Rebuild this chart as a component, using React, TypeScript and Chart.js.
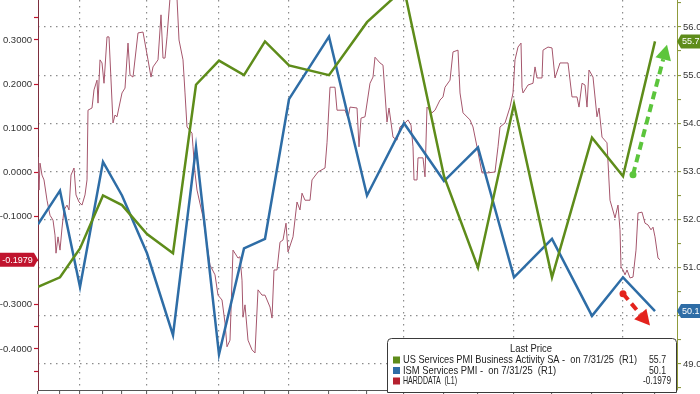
import React, { useEffect, useRef } from 'react';
import { Chart, registerables } from 'chart.js';

Chart.register(...registerables);

const FONT = '"Liberation Sans", Arial, Helvetica, sans-serif';

// Month-end observations (Oct 2023 .. Jul 2025), x = observation index on the chart's time axis
const months = ['Oct 23', 'Nov 23', 'Dec 23', 'Jan 24', 'Feb 24', 'Mar 24', 'Apr 24', 'May 24', 'Jun 24', 'Jul 24', 'Aug 24', 'Sep 24', 'Oct 24', 'Nov 24', 'Dec 24', 'Jan 25', 'Feb 25', 'Mar 25', 'Apr 25', 'May 25', 'Jun 25', 'Jul 25'];
const monthObs = [0, 8.8, 16.8, 26, 33.6, 43.6, 54, 63.2, 72.4, 82.4, 90.8, 100.4, 116.4, 131.6, 146.4, 162.4, 176, 190.4, 205.6, 221.6, 234, 246.8];
const axisMaxObs = 255.6;

const usServicesPmi = [50.6, 50.8, 51.4, 52.5, 52.3, 51.7, 51.3, 54.8, 55.3, 55.0, 55.7, 55.2, 55.0, 56.1, 56.8, 52.9, 51.0, 54.4, 50.8, 53.7, 52.9, 55.7];
const ismServicesPmi = [51.9, 52.6, 50.6, 53.2, 52.5, 51.3, 49.6, 53.5, 49.2, 51.4, 51.6, 54.5, 55.8, 52.5, 54.0, 52.8, 53.5, 50.8, 51.6, 50.0, 50.8, 50.1];

const hardObs = [0, 0.4, 0.8, 1.6, 2.4, 3.6, 4.8, 6, 6.8, 7.2, 8, 8.8, 9.6, 10.4, 11.6, 12.4, 13.2, 14.4, 15.2, 16.4, 17.6, 18.8, 19.6, 20, 21.6, 22.4, 23.6, 24, 24.8, 25.6, 26.4, 27.6, 28.4, 30, 30.8, 31.6, 33.6, 34.8, 36, 36.8, 38, 40, 42, 44, 45.2, 46, 48, 49.2, 50, 50.8, 51.6, 52.8, 55.6, 56.4, 58, 58.8, 59.6, 61.6, 62, 62.8, 63.6, 66, 68.8, 70.8, 72, 73.6, 74.8, 75.6, 76.8, 78, 80, 80.8, 81.6, 82, 82.8, 84, 85.6, 86.8, 88, 89.6, 90.8, 92.8, 93.6, 94.4, 95.6, 96.8, 98, 99.2, 100, 102, 103.6, 104.8, 105.6, 106.8, 108.8, 109.6, 112, 114.8, 115.6, 116.8, 118.8, 119.6, 122.8, 124, 124.8, 127.6, 128.4, 129.2, 130.8, 132.8, 134, 134.8, 136.8, 138, 139.6, 140.4, 142, 143.6, 144.8, 146.8, 148, 149.2, 150, 150.4, 151.6, 152, 154, 154.8, 155.6, 157.6, 158.8, 160.8, 162, 162.8, 164.8, 166, 168, 168.8, 170, 172.8, 174, 175.6, 177.6, 180, 182.8, 184, 184.8, 186.8, 188.8, 190, 190.8, 192, 193.2, 193.6, 194, 196, 198, 198.8, 199.6, 201.6, 202, 204, 205.6, 206.8, 208.8, 212, 213.6, 215.6, 216.4, 217.6, 218.8, 219.6, 220.4, 222, 223.6, 224.4, 225.6, 227.6, 228.8, 230.8, 232, 232.8, 233.2, 234, 234.8, 235.6, 236.8, 238, 239.2, 240, 241.6, 242.8, 244, 245.2, 246, 246.8, 248, 248.8];
const hardData = [0.035, -0.040, 0.021, -0.006, -0.017, -0.063, -0.097, -0.108, -0.142, -0.183, -0.146, -0.176, -0.126, -0.085, -0.074, -0.085, -0.006, 0.010, -0.051, -0.067, -0.074, -0.051, -0.017, 0.141, 0.146, 0.187, 0.209, 0.157, 0.255, 0.248, 0.202, 0.307, 0.307, 0.112, 0.130, 0.126, 0.180, 0.191, 0.293, 0.221, 0.216, 0.316, 0.318, 0.255, 0.216, 0.239, 0.255, 0.357, 0.259, 0.259, 0.307, 0.395, 0.395, 0.300, 0.255, 0.180, 0.103, 0.089, 0.058, -0.001, -0.040, -0.101, -0.210, -0.232, -0.278, -0.289, -0.341, -0.395, -0.380, -0.176, -0.194, -0.191, -0.244, -0.328, -0.300, -0.380, -0.402, -0.409, -0.266, -0.278, -0.278, -0.305, -0.330, -0.221, -0.221, -0.158, -0.153, -0.115, -0.180, -0.146, -0.067, -0.085, -0.047, -0.063, -0.063, -0.017, 0.001, 0.010, 0.067, 0.193, 0.193, 0.141, 0.141, 0.123, 0.148, 0.146, 0.058, 0.123, 0.126, 0.202, 0.216, 0.261, 0.248, 0.243, 0.114, 0.146, 0.080, 0.073, 0.103, 0.112, 0.119, 0.107, 0.058, -0.017, -0.017, 0.033, 0.033, -0.010, 0.148, 0.135, 0.141, 0.164, 0.171, 0.193, 0.209, 0.273, 0.277, 0.180, 0.135, 0.119, 0.103, 0.058, -0.001, -0.001, 0.001, 0.058, 0.103, 0.112, 0.148, 0.180, 0.255, 0.284, 0.293, 0.193, 0.180, 0.198, 0.202, 0.239, 0.214, 0.214, 0.277, 0.284, 0.282, 0.214, 0.248, 0.248, 0.171, 0.171, 0.148, 0.202, 0.198, 0.148, 0.232, 0.216, 0.126, 0.146, 0.080, 0.067, -0.063, -0.103, -0.074, -0.130, -0.214, -0.221, -0.232, -0.221, -0.239, -0.237, -0.176, -0.092, -0.090, -0.115, -0.119, -0.130, -0.124, -0.146, -0.194, -0.1979];

const leftTicks = [-0.45, -0.4, -0.35, -0.3, -0.2, -0.1, 0, 0.1, 0.2, 0.3, 0.35];
const leftRange = [-0.4929, 0.3906];
const rightTicks = [48.5, 49, 49.5, 50, 50.5, 51, 51.5, 52, 52.5, 53, 53.5, 54, 54.5, 55, 55.5, 56, 56.5];
const rightRange = [48.46, 56.56];

// annotation arrows [x obs, right-axis value]
const greenArrow = [[238, 52.93], [251.6, 55.63]];
const redArrow = [[234, 50.46], [244.8, 49.8]];

const legendTitle = 'Last Price';
const legendRows = [
  { name: 'US Services PMI Business Activity SA -  on 7/31/25  (R1)', value: '55.7', color: '#5E8C1A' },
  { name: 'ISM Services PMI -  on 7/31/25  (R1)', value: '50.1', color: '#2E6DA6' },
  { name: 'HARDDATA  (L1)', value: '-0.1979', color: '#B5202E' },
];

const GREEN = '#5E8C1A';
const BLUE = '#2E6DA6';
const HARD = '#A5566C';

function drawArrow(ctx: CanvasRenderingContext2D, x1: number, y1: number, x2: number, y2: number, color: string) {
  const ang = Math.atan2(y2 - y1, x2 - x1);
  const headLen = 15;
  const headW = 8;
  const bx = x2 - Math.cos(ang) * headLen;
  const by = y2 - Math.sin(ang) * headLen;
  ctx.save();
  ctx.strokeStyle = color;
  ctx.fillStyle = color;
  ctx.lineWidth = 4;
  ctx.setLineDash([8, 5]);
  ctx.beginPath();
  ctx.moveTo(x1, y1);
  ctx.lineTo(bx, by);
  ctx.stroke();
  ctx.setLineDash([]);
  ctx.beginPath();
  ctx.arc(x1, y1, 3.5, 0, Math.PI * 2);
  ctx.fill();
  ctx.beginPath();
  ctx.moveTo(x2, y2);
  ctx.lineTo(bx + Math.cos(ang + Math.PI / 2) * headW, by + Math.sin(ang + Math.PI / 2) * headW);
  ctx.lineTo(bx - Math.cos(ang + Math.PI / 2) * headW, by - Math.sin(ang + Math.PI / 2) * headW);
  ctx.closePath();
  ctx.fill();
  ctx.restore();
}

function drawTag(ctx: CanvasRenderingContext2D, tipX: number, y: number, text: string, color: string, side: 'left' | 'right', width: number) {
  const h = 14;
  const p = 4;
  ctx.save();
  ctx.fillStyle = color;
  ctx.beginPath();
  if (side === 'left') {
    ctx.moveTo(tipX, y);
    ctx.lineTo(tipX - p, y - h / 2);
    ctx.lineTo(tipX - p - width, y - h / 2);
    ctx.lineTo(tipX - p - width, y + h / 2);
    ctx.lineTo(tipX - p, y + h / 2);
  } else {
    ctx.moveTo(tipX, y);
    ctx.lineTo(tipX + p, y - h / 2);
    ctx.lineTo(tipX + p + width, y - h / 2);
    ctx.lineTo(tipX + p + width, y + h / 2);
    ctx.lineTo(tipX + p, y + h / 2);
  }
  ctx.closePath();
  ctx.fill();
  ctx.fillStyle = '#ffffff';
  ctx.font = `9px ${FONT}`;
  ctx.textBaseline = 'middle';
  if (side === 'left') {
    ctx.textAlign = 'center';
    ctx.fillText(text, tipX - p - width / 2 + 0.5, y + 0.5);
  } else {
    ctx.textAlign = 'left';
    ctx.fillText(text, tipX + p + 1, y + 0.5);
  }
  ctx.restore();
}

const overlayPlugin = {
  id: 'overlay',
  afterDatasetsDraw(chart: any) {
    const { ctx, scales } = chart;
    const xs = scales.x;
    const yr = scales.y1;
    drawArrow(ctx, xs.getPixelForValue(greenArrow[0][0]), yr.getPixelForValue(greenArrow[0][1]), xs.getPixelForValue(greenArrow[1][0]), yr.getPixelForValue(greenArrow[1][1]), '#5CC53C');
    drawArrow(ctx, xs.getPixelForValue(redArrow[0][0]), yr.getPixelForValue(redArrow[0][1]), xs.getPixelForValue(redArrow[1][0]), yr.getPixelForValue(redArrow[1][1]), '#E4231D');
  },
  afterDraw(chart: any) {
    const { ctx, scales, chartArea } = chart;
    const yl = scales.y;
    const yr = scales.y1;
    drawTag(ctx, chartArea.left, yl.getPixelForValue(hardData[hardData.length - 1]), '-0.1979', '#C0142E', 'left', 34);
    drawTag(ctx, chartArea.right, yr.getPixelForValue(usServicesPmi[usServicesPmi.length - 1]), '55.7', GREEN, 'right', 22);
    drawTag(ctx, chartArea.right, yr.getPixelForValue(ismServicesPmi[ismServicesPmi.length - 1]), '50.1', BLUE, 'right', 22);

    // legend box
    const bx = 387, by = 338, bw = 289, bh = 54, r = 4;
    ctx.save();
    ctx.fillStyle = '#ffffff';
    ctx.strokeStyle = '#3a3a3a';
    ctx.lineWidth = 1;
    ctx.beginPath();
    ctx.moveTo(bx + r + 0.5, by + 0.5);
    ctx.lineTo(bx + bw - r + 0.5, by + 0.5);
    ctx.quadraticCurveTo(bx + bw + 0.5, by + 0.5, bx + bw + 0.5, by + r + 0.5);
    ctx.lineTo(bx + bw + 0.5, by + bh + 0.5);
    ctx.lineTo(bx + 0.5, by + bh + 0.5);
    ctx.lineTo(bx + 0.5, by + r + 0.5);
    ctx.quadraticCurveTo(bx + 0.5, by + 0.5, bx + r + 0.5, by + 0.5);
    ctx.closePath();
    ctx.fill();
    ctx.stroke();

    ctx.fillStyle = '#222222';
    ctx.font = `10.5px ${FONT}`;
    ctx.textBaseline = 'middle';
    ctx.textAlign = 'center';
    ctx.fillText(legendTitle, 531, 349, 42);
    ctx.textAlign = 'left';
    const widths = [234, 153, 54];
    const valX = [649, 649, 643];
    const valW = [17, 17, 28];
    legendRows.forEach((row, i) => {
      const cy = 360 + i * 10.5;
      ctx.fillStyle = row.color;
      ctx.fillRect(393, cy - 3.5, 7, 7);
      ctx.fillStyle = '#222222';
      ctx.fillText(row.name, 403, cy + 0.5, widths[i]);
      ctx.fillText(row.value, valX[i], cy + 0.5, valW[i]);
    });
    ctx.restore();
  },
};

export default function App() {
  const ref = useRef<HTMLCanvasElement>(null);
  useEffect(() => {
    const canvas = ref.current;
    if (!canvas) return;
    const isMajorLeft = (v: number) => Math.abs(v * 10 - Math.round(v * 10)) < 1e-6;
    const isIntRight = (v: number) => Math.abs(v - Math.round(v)) < 1e-6;
    const chart = new Chart(canvas, {
      type: 'line',
      data: {
        datasets: [
          {
            label: legendRows[0].name,
            data: monthObs.map((x, i) => ({ x, y: usServicesPmi[i] })),
            yAxisID: 'y1',
            borderColor: GREEN,
            borderWidth: 2.5,
            pointRadius: 0,
            tension: 0,
            order: 0,
          },
          {
            label: legendRows[1].name,
            data: monthObs.map((x, i) => ({ x, y: ismServicesPmi[i] })),
            yAxisID: 'y1',
            borderColor: BLUE,
            borderWidth: 2.5,
            pointRadius: 0,
            tension: 0,
            order: 1,
          },
          {
            label: legendRows[2].name,
            data: hardObs.map((x, i) => ({ x, y: hardData[i] })),
            yAxisID: 'y',
            borderColor: HARD,
            borderWidth: 1,
            pointRadius: 0,
            tension: 0,
            order: 2,
          },
        ],
      },
      options: {
        animation: false,
        responsive: false,
        devicePixelRatio: 1,
        layout: { padding: 0 },
        plugins: { legend: { display: false }, tooltip: { enabled: false } },
        scales: {
          x: {
            type: 'linear',
            min: 0,
            max: axisMaxObs,
            afterBuildTicks: (s: any) => {
              s.ticks = monthObs.map((v) => ({ value: v }));
            },
            ticks: { display: false },
            grid: {
              color: (c: any) => (c.index % 3 === 2 ? '#8c8c8c' : 'rgba(0,0,0,0)'),
              lineWidth: 1.2,
              tickLength: 4,
              tickColor: '#555555',
              tickWidth: 1,
            },
            border: { color: '#555555', width: 1, dash: [1.5, 4.5] },
          },
          y: {
            type: 'linear',
            position: 'left',
            min: leftRange[0],
            max: leftRange[1],
            afterBuildTicks: (s: any) => {
              s.ticks = leftTicks.map((v) => ({ value: v }));
            },
            afterFit: (s: any) => {
              s.width = 38;
              s.paddingTop = 0;
              s.paddingBottom = 0;
            },
            ticks: {
              callback: (v: any) => (isMajorLeft(Number(v)) ? Number(v).toFixed(4) : ''),
              color: '#333333',
              font: { size: 9.5, family: FONT },
              padding: 2,
              autoSkip: false,
            },
            grid: { drawOnChartArea: false, tickLength: 4, tickColor: '#C0142E', tickWidth: 1.2 },
            border: { color: '#7D2E3E', width: 1 },
          },
          y1: {
            type: 'linear',
            position: 'right',
            min: rightRange[0],
            max: rightRange[1],
            afterBuildTicks: (s: any) => {
              s.ticks = rightTicks.map((v) => ({ value: v }));
            },
            afterFit: (s: any) => {
              s.width = 23;
              s.paddingTop = 0;
              s.paddingBottom = 0;
            },
            ticks: {
              callback: (v: any) => (isIntRight(Number(v)) ? Number(v).toFixed(1) : ''),
              color: '#333333',
              font: { size: 9.5, family: FONT },
              padding: 2,
              autoSkip: false,
            },
            grid: {
              drawOnChartArea: true,
              color: (c: any) => (c.tick && isIntRight(c.tick.value) ? '#8c8c8c' : 'rgba(0,0,0,0)'),
              lineWidth: 1.2,
              tickLength: 4,
              tickColor: '#7E8F2E',
              tickWidth: 1,
            },
            border: { color: '#8F9B3B', width: 1, dash: [1.5, 4.5] },
          },
        },
      },
      plugins: [overlayPlugin],
    } as any);
    return () => chart.destroy();
  }, []);

  return (
    <div style={{ position: 'fixed', left: 0, top: 0, width: 700, height: 394, background: '#ffffff' }}>
      <canvas ref={ref} width={700} height={394} style={{ display: 'block', width: 700, height: 394 }} />
    </div>
  );
}
